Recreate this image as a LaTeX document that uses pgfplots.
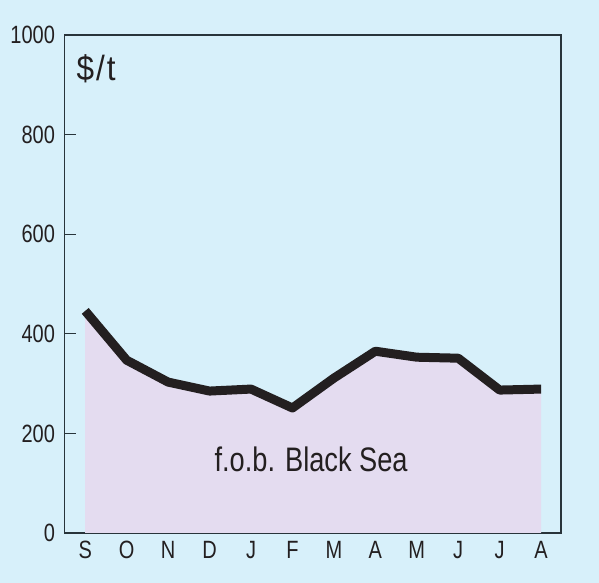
\documentclass[border=0pt]{standalone}
\usepackage{pgfplots}
\pgfplotsset{compat=1.18}
\usepackage{fontspec}
\setmainfont{Liberation Sans}[FakeStretch=0.8]
\newfontfamily\unitfont{Liberation Sans}[FakeStretch=0.9]
\definecolor{bgblue}{RGB}{215,240,250}
\definecolor{lav}{RGB}{228,220,240}
\definecolor{ink}{RGB}{35,31,32}
\definecolor{axc}{RGB}{40,52,58}
\begin{document}
\begin{tikzpicture}[x=1bp,y=1bp]
\fill[bgblue] (0,0) rectangle (599,583);
\begin{axis}[
  at={(64.5bp,50bp)}, anchor=south west,
  scale only axis, width=496.5bp, height=498bp,
  xmin=-0.5, xmax=11.48, ymin=0, ymax=1000,
  axis line style={axc, line width=1.2bp},
  xtick={0,...,11},
  xticklabels={S,O,N,D,J,F,M,A,M,J,J,A},
  major x tick style={draw=none},
  minor xtick={0.5,1.5,...,10.5},
  minor tick length=12bp,
  minor x tick style={axc, line width=1bp},
  ytick={0,200,400,600,800,1000},
  major tick length=12bp,
  major y tick style={axc, line width=1bp},
  tick align=inside,
  xtick pos=bottom, ytick pos=left,
  /pgf/number format/assume math mode=true,
  /pgf/number format/1000 sep={},
  ticklabel style={font=\fontsize{25bp}{28bp}\selectfont, text=ink},
  yticklabel style={xshift=-6bp},
  xticklabel style={yshift=-5bp},
  axis background/.style={fill=bgblue},
  clip=false,
]
\addplot[fill=lav, draw=none] table {
x y
0 446
1 347
2 303
3 285
4 289
5 251
6 311
7 365
8 353
9 351
10 287
11 289
} \closedcycle;
\addplot[ink, line width=9bp, line join=round, line cap=butt, mark=none] table {
x y
0 446
1 347
2 303
3 285
4 289
5 251
6 311
7 365
8 353
9 351
10 287
11 289
};
\node[anchor=west, font=\unitfont\fontsize{35bp}{38bp}\selectfont, text=ink] at (axis cs:-0.29,932) {\$\kern2bp/\kern2bp t};
\node[font=\fontsize{34bp}{38bp}\selectfont, text=ink] at (axis cs:5.45,148) {f.o.b. Black Sea};
\end{axis}
\end{tikzpicture}
\end{document}
